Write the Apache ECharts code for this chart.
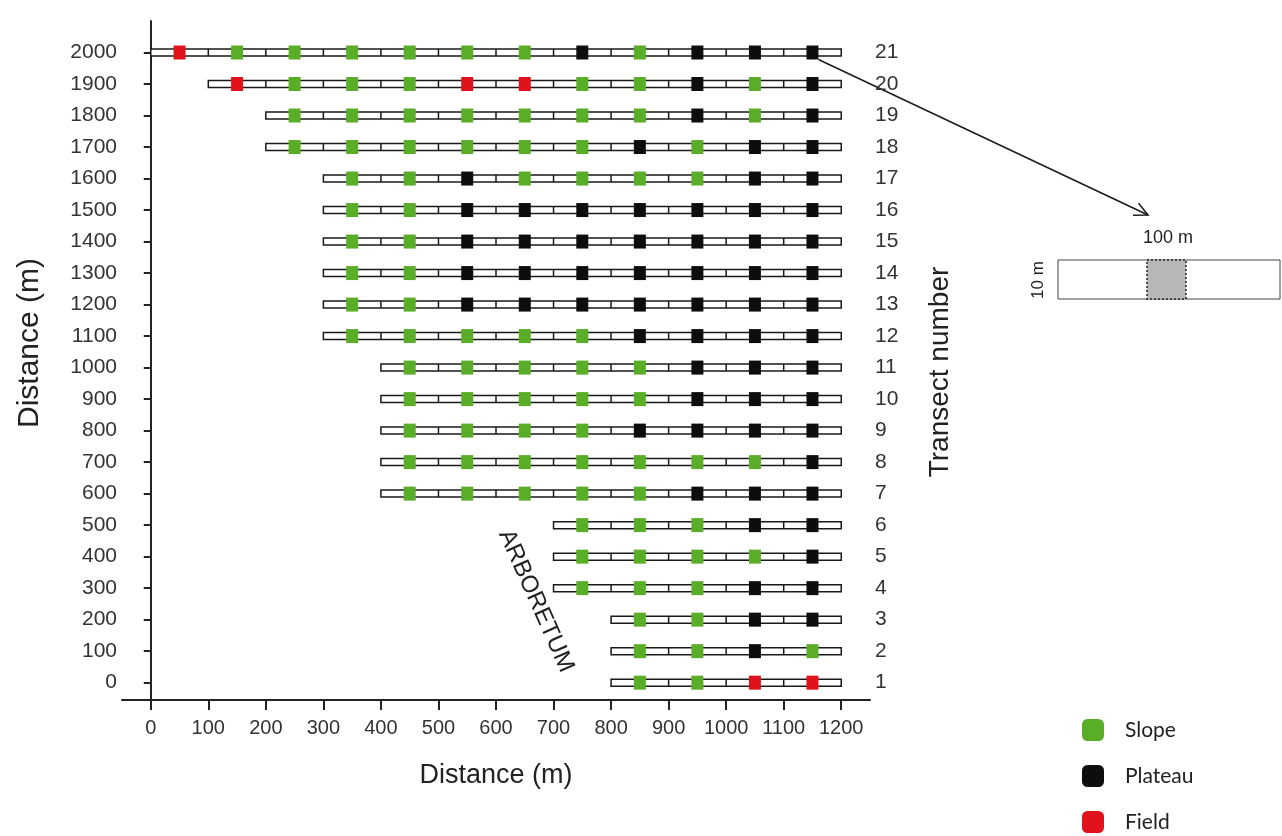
<!DOCTYPE html>
<html>
<head>
<meta charset="utf-8">
<script src="https://cdn.jsdelivr.net/npm/echarts@6/dist/echarts.min.js"></script>
<style>
html,body{margin:0;padding:0;background:#fff;}
#chart{width:1282px;height:836px;}
</style>
</head>
<body>
<div id="chart"></div>
<script>
// ---- data ----
const transectLabels = ['1','2','3','4','5','6','7','8','9','10','11','12','13','14','15','16','17','18','19','20','21'];
const yPositions = [0,100,200,300,400,500,600,700,800,900,1000,1100,1200,1300,1400,1500,1600,1700,1800,1900,2000];
const transectStarts = [800,800,800,700,700,700,400,400,400,400,400,300,300,300,300,300,300,200,200,100,0];
const transectEnd = 1200;
// habitat of each 100 m cell from the transect start: G = Slope, B = Plateau, R = Field
const habitatCodes = [
  'GGRR',
  'GGBG',
  'GGBB',
  'GGGBB',
  'GGGGB',
  'GGGBB',
  'GGGGGBBB',
  'GGGGGGGB',
  'GGGGBBBB',
  'GGGGGBBB',
  'GGGGGBBB',
  'GGGGGBBBB',
  'GGBBBBBBB',
  'GGBBBBBBB',
  'GGBBBBBBB',
  'GGBBBBBBB',
  'GGBGGGGBB',
  'GGGGGGBGBB',
  'GGGGGGGBGB',
  'RGGGRRGGBGB',
  'RGGGGGGBGBBB'
];
const xTicks = [0,100,200,300,400,500,600,700,800,900,1000,1100,1200];
const yTicks = [0,100,200,300,400,500,600,700,800,900,1000,1100,1200,1300,1400,1500,1600,1700,1800,1900,2000];
const habitatNames = {G:'Slope', B:'Plateau', R:'Field'};
const habitatColors = {G:'#5aad27', B:'#0d0d0d', R:'#e0121b'};

// ---- build ----
const cellSize = 100;
const cells = {G:[], B:[], R:[]};
habitatCodes.forEach((code, t) => {
  for (let i = 0; i < code.length; i++) {
    cells[code[i]].push([transectStarts[t] + cellSize/2 + cellSize*i, yPositions[t]]);
  }
});
const transectData = transectStarts.map((s, t) => [s, transectEnd, yPositions[t]]);

const FONT = '"Liberation Sans", Arial, sans-serif';

function renderTransect(params, api) {
  const s = api.value(0), e = api.value(1), y = api.value(2);
  const p0 = api.coord([s, y]), p1 = api.coord([e, y]);
  const h = 7;
  const children = [{
    type: 'rect',
    shape: {x: p0[0], y: p0[1] - h/2, width: p1[0] - p0[0], height: h},
    style: {fill: '#fff', stroke: '#1a1a1a', lineWidth: 1.5}
  }];
  for (let d = s + cellSize; d < e; d += cellSize) {
    const pd = api.coord([d, y]);
    children.push({
      type: 'line',
      shape: {x1: pd[0], y1: p0[1] - h/2, x2: pd[0], y2: p0[1] + h/2},
      style: {stroke: '#1a1a1a', lineWidth: 1.5}
    });
  }
  return {type: 'group', children};
}

const chart = echarts.init(document.getElementById('chart'), null, {renderer: 'canvas'});
const scatterSeries = ['G','B','R'].map(k => ({
  name: habitatNames[k],
  type: 'scatter',
  symbol: 'rect',
  symbolSize: [12, 14],
  z: 5,
  itemStyle: {color: habitatColors[k], opacity: 1},
  emphasis: {disabled: true},
  data: cells[k]
}));

chart.setOption({
  animation: false,
  backgroundColor: '#fff',
  grid: {left: 122, right: 412, top: 21, bottom: 136, containLabel: false},
  legend: {
    data: ['Slope','Plateau','Field'],
    orient: 'vertical',
    left: 1082, top: 719, padding: 0, height: 117,
    itemWidth: 22, itemHeight: 22, itemGap: 24,
    icon: 'roundRect',
    itemStyle: {opacity: 1},
    textStyle: {fontSize: 21, fontFamily: 'Lato, "Open Sans", sans-serif', color: '#222', padding: [0,0,0,16]}
  },
  xAxis: {
    type: 'value', min: -50, max: 1250,
    name: 'Distance (m)', nameLocation: 'middle', nameGap: 62,
    nameTextStyle: {fontSize: 27, fontFamily: FONT, color: '#222'},
    axisLine: {onZero: false, lineStyle: {color: '#222', width: 2}},
    axisTick: {customValues: xTicks, length: 10, lineStyle: {color: '#222', width: 2}},
    axisLabel: {customValues: xTicks, fontSize: 20, fontFamily: FONT, color: '#333', margin: 18,
      formatter: v => String(v)},
    splitLine: {show: false}
  },
  yAxis: [{
    type: 'value', min: -55, max: 2100,
    axisLine: {onZero: true, lineStyle: {color: '#222', width: 2}},
    axisTick: {customValues: yTicks, length: 7, lineStyle: {color: '#222', width: 2}},
    axisLabel: {customValues: yTicks, fontSize: 21, fontFamily: FONT, color: '#333', margin: 5,
      formatter: v => String(v)},
    splitLine: {show: false}
  }, {
    type: 'value', min: -55, max: 2100, position: 'right',
    axisLine: {show: false}, axisTick: {show: false},
    axisLabel: {customValues: yTicks, fontSize: 21, fontFamily: FONT, color: '#333', margin: 5,
      formatter: v => transectLabels[yPositions.indexOf(v)]},
    splitLine: {show: false}
  }],
  series: [{
    name: 'transects',
    type: 'custom',
    renderItem: renderTransect,
    encode: {x: [0, 1], y: 2},
    z: 2,
    data: transectData
  }].concat(scatterSeries)
});

// ---- annotations ----
const p = chart.convertToPixel({gridIndex: 0}, [1150, 2000]);
const a0 = [p[0] + 6, p[1] + 7];
const a1 = [1148, 215];
const ang = Math.atan2(a1[1] - a0[1], a1[0] - a0[0]);
const hl = 15, ha = 0.45;
const h1 = [a1[0] - hl*Math.cos(ang - ha), a1[1] - hl*Math.sin(ang - ha)];
const h2 = [a1[0] - hl*Math.cos(ang + ha), a1[1] - hl*Math.sin(ang + ha)];

chart.setOption({
  graphic: [
    {type: 'text', x: 30, y: 343, rotation: Math.PI/2,
     style: {text: 'Distance (m)', font: '30px ' + FONT, fill: '#222', align: 'center', verticalAlign: 'middle'}},
    {type: 'text', x: 940, y: 372, rotation: Math.PI/2,
     style: {text: 'Transect number', font: '28px ' + FONT, fill: '#222', align: 'center', verticalAlign: 'middle'}},
    {type: 'text', x: 536, y: 601, rotation: -1.15,
     style: {text: 'ARBORETUM', font: '24px ' + FONT, fill: '#222', align: 'center', verticalAlign: 'middle'}},
    {type: 'line', shape: {x1: a0[0], y1: a0[1], x2: a1[0], y2: a1[1]}, style: {stroke: '#1a1a1a', lineWidth: 1.5}},
    {type: 'polyline', shape: {points: [h1, a1, h2]}, style: {stroke: '#1a1a1a', lineWidth: 1.5, fill: null}},
    {type: 'text', x: 1168, y: 238,
     style: {text: '100 m', font: '18px ' + FONT, fill: '#222', align: 'center', verticalAlign: 'middle'}},
    {type: 'text', x: 1038, y: 280, rotation: Math.PI/2,
     style: {text: '10 m', font: '17px ' + FONT, fill: '#222', align: 'center', verticalAlign: 'middle'}},
    {type: 'rect', shape: {x: 1058, y: 260, width: 222, height: 39},
     style: {fill: '#fff', stroke: '#444', lineWidth: 1}},
    {type: 'rect', shape: {x: 1147, y: 260, width: 39, height: 39},
     style: {fill: '#b8b8b8', stroke: '#222', lineWidth: 1.5, lineDash: [2, 2]}}
  ]
});
</script>
</body>
</html>
